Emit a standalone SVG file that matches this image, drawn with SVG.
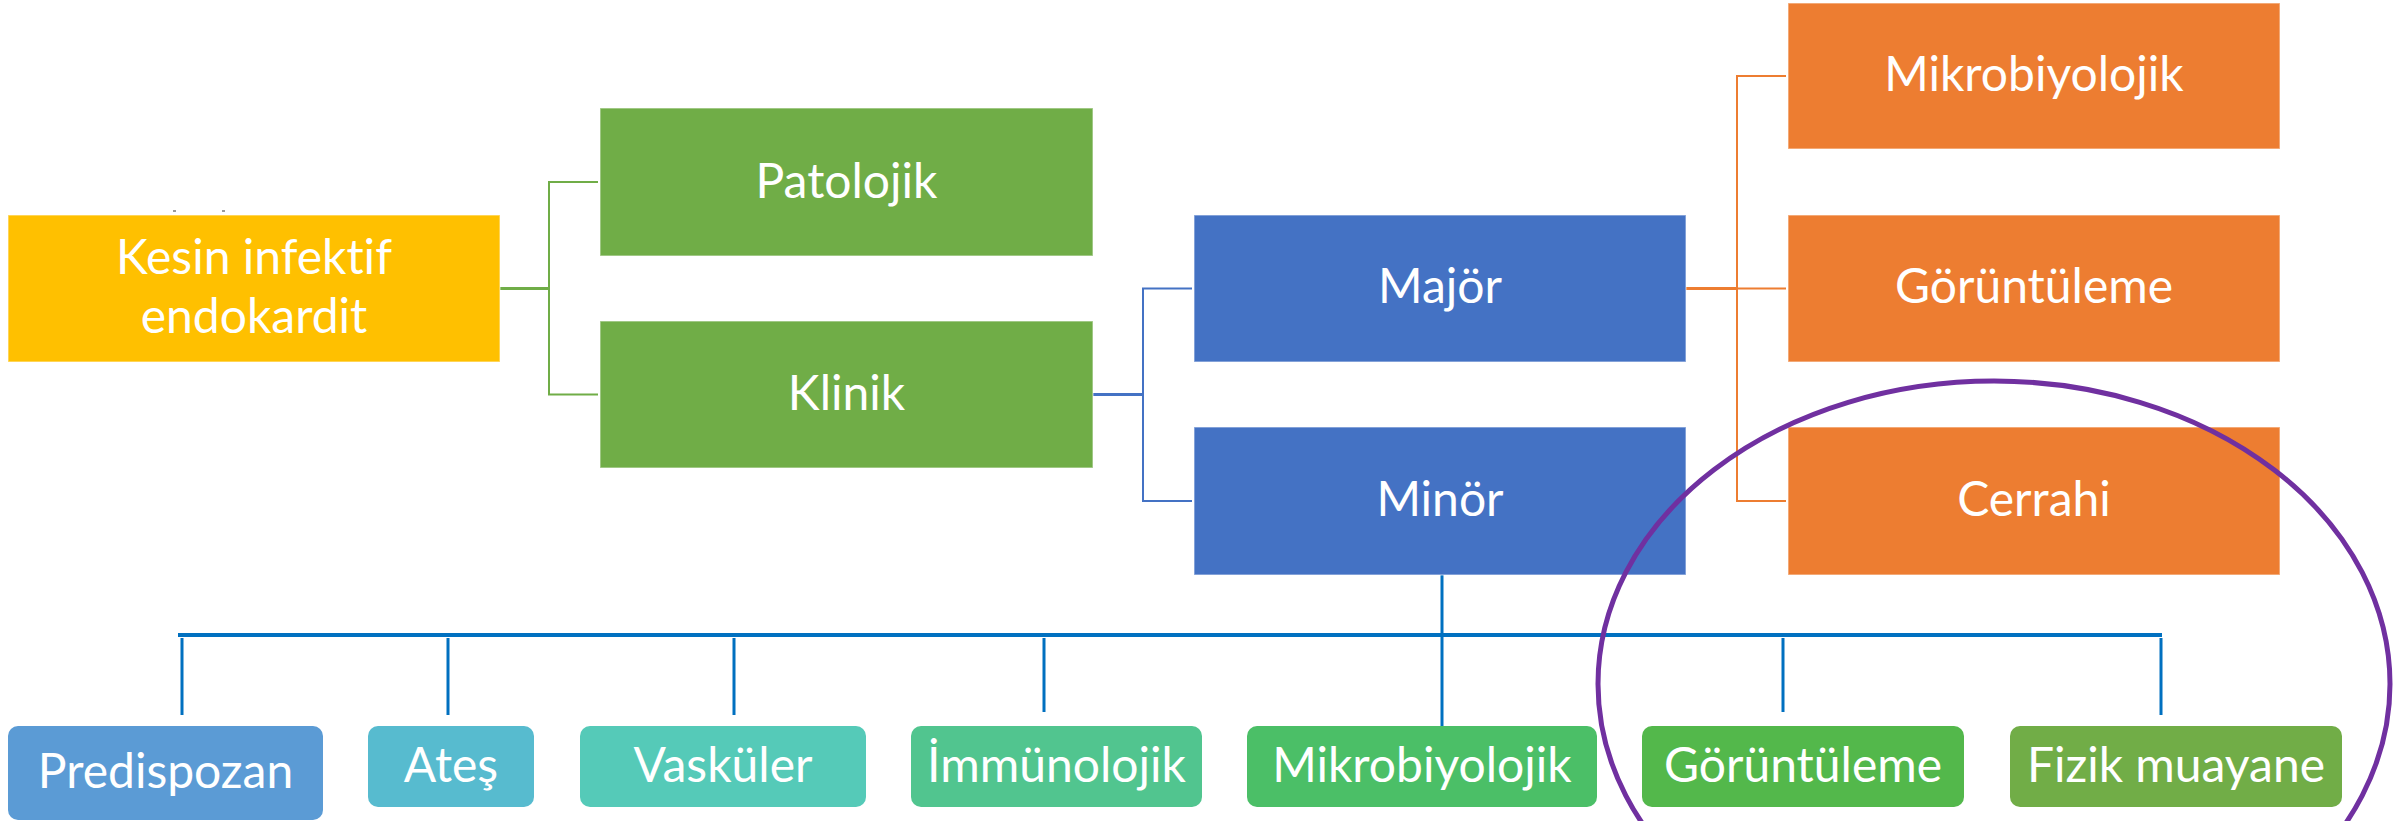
<svg xmlns="http://www.w3.org/2000/svg" width="2407" height="821" viewBox="0 0 2407 821">
  <style>
    .box { stroke: #ffffff; stroke-opacity: 0.45; stroke-width: 1.5; }
    .lbl { font-family: Lato, "Open Sans", "Liberation Sans", sans-serif; font-size: 48px; fill: #ffffff; text-anchor: middle; font-variant-ligatures: none; }
    .ln { fill: none; stroke-linecap: butt; stroke-linejoin: miter; }
    .g { stroke: #70AD47; }
    .b { stroke: #4472C4; }
    .o { stroke: #ED7D31; }
    .bus { stroke: #0070C0; }
  </style>
  <rect width="2407" height="821" fill="#ffffff"/>

  <!-- connectors -->
  <g id="connectors">
    <!-- root to Patolojik / Klinik -->
    <path class="ln g" stroke-width="3" d="M500 288.5 H549"/>
    <path class="ln g" stroke-width="2" d="M598 182 H549 V394.5 H598"/>
    <!-- Klinik to Majör / Minör -->
    <path class="ln b" stroke-width="3" d="M1093 394.5 H1143"/>
    <path class="ln b" stroke-width="2" d="M1192 288.5 H1143 V501 H1192"/>
    <!-- Majör to its three criteria -->
    <path class="ln o" stroke-width="3" d="M1686 288.5 H1737"/>
    <path class="ln o" stroke-width="2" d="M1786 76 H1737 V501 H1786 M1737 288.5 H1786"/>
    <!-- Minör to the bottom row -->
    <path class="ln bus" stroke-width="3" d="M1442 575 V726"/>
    <path class="ln bus" stroke-width="4" d="M178 635 H2162"/>
    <path class="ln bus" stroke-width="3" d="M182 638 V715 M448 638 V715 M734 638 V715 M1044 638 V712 M1783 638 V712 M2161 638 V715"/>
  </g>

  <!-- faint marks above the root box -->
  <rect x="173" y="210" width="3" height="2" fill="#9a9a9a"/>
  <rect x="222" y="210" width="3" height="2" fill="#9a9a9a"/>

  <g id="node-kesin">
    <rect class="box" x="8" y="215" width="492" height="147" fill="#FFC000"/>
    <text class="lbl" x="254" y="274">Kesin infektif</text>
    <text class="lbl" x="254" y="333">endokardit</text>
  </g>

  <g id="node-patolojik">
    <rect class="box" x="600" y="108" width="493" height="148" fill="#70AD47"/>
    <text class="lbl" x="846.5" y="198">Patolojik</text>
  </g>
  <g id="node-klinik">
    <rect class="box" x="600" y="321" width="493" height="147" fill="#70AD47"/>
    <text class="lbl" x="846.5" y="410">Klinik</text>
  </g>

  <g id="node-major">
    <rect class="box" x="1194" y="215" width="492" height="147" fill="#4472C4"/>
    <text class="lbl" x="1440" y="303">Majör</text>
  </g>
  <g id="node-minor">
    <rect class="box" x="1194" y="427" width="492" height="148" fill="#4472C4"/>
    <text class="lbl" x="1440" y="516">Minör</text>
  </g>

  <g id="node-mikrobiyolojik-major">
    <rect class="box" x="1788" y="3" width="492" height="146" fill="#ED7D31"/>
    <text class="lbl" x="2034" y="91">Mikrobiyolojik</text>
  </g>
  <g id="node-goruntuleme-major">
    <rect class="box" x="1788" y="215" width="492" height="147" fill="#ED7D31"/>
    <text class="lbl" x="2034" y="303">Görüntüleme</text>
  </g>
  <g id="node-cerrahi">
    <rect class="box" x="1788" y="427" width="492" height="148" fill="#ED7D31"/>
    <text class="lbl" x="2034" y="516">Cerrahi</text>
  </g>

  <!-- minor criteria row -->
  <g id="node-predispozan">
    <rect x="8" y="726" width="315" height="94" rx="10" fill="#5B9BD5"/>
    <text class="lbl" x="165.5" y="788">Predispozan</text>
  </g>
  <g id="node-ates">
    <rect x="368" y="726" width="166" height="81" rx="10" fill="#57BBCF"/>
    <text class="lbl" x="451" y="782">Ateş</text>
  </g>
  <g id="node-vaskuler">
    <rect x="580" y="726" width="286" height="81" rx="10" fill="#55CAB8"/>
    <text class="lbl" x="723" y="782">Vasküler</text>
  </g>
  <g id="node-immunolojik">
    <rect x="911" y="726" width="291" height="81" rx="10" fill="#51C58F"/>
    <text class="lbl" x="1056.5" y="782">İmmünolojik</text>
  </g>
  <g id="node-mikrobiyolojik-minor">
    <rect x="1247" y="726" width="350" height="81" rx="10" fill="#4BBF67"/>
    <text class="lbl" x="1422" y="782">Mikrobiyolojik</text>
  </g>
  <g id="node-goruntuleme-minor">
    <rect x="1642" y="726" width="322" height="81" rx="10" fill="#53B84B"/>
    <text class="lbl" x="1803" y="782">Görüntüleme</text>
  </g>
  <g id="node-fizik">
    <rect x="2010" y="726" width="332" height="81" rx="10" fill="#71AD47"/>
    <text class="lbl" x="2176" y="782">Fizik muayane</text>
  </g>

  <!-- highlight ring -->
  <ellipse id="highlight" cx="1994" cy="684" rx="396" ry="303" fill="none" stroke="#7030A0" stroke-width="5"/>
</svg>
